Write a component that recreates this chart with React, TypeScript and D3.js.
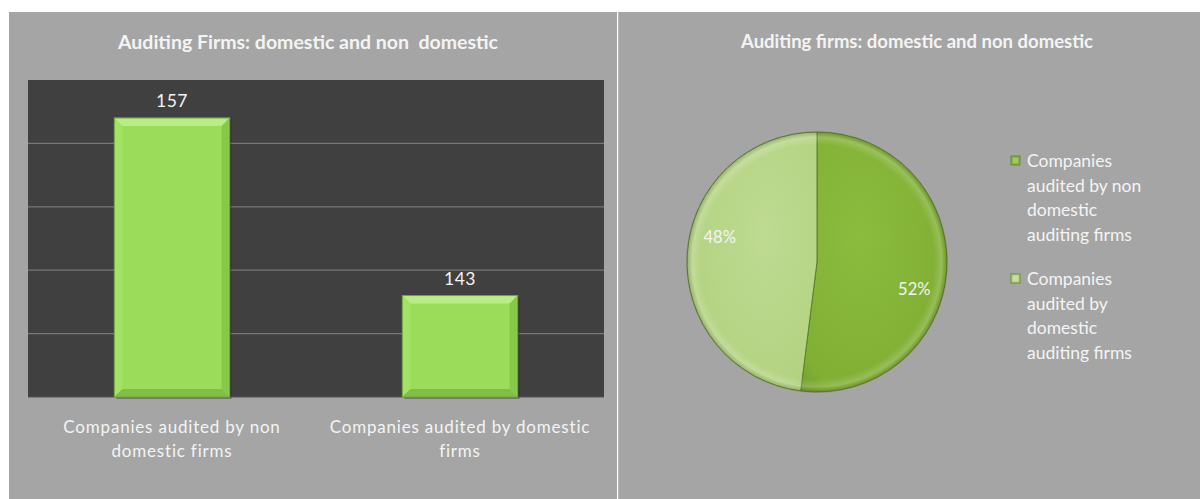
import React from "react";
import * as d3 from "d3";

const barCategories = [
  ["Companies audited by non", "domestic firms"],
  ["Companies audited by domestic", "firms"],
];
const barValues = [157, 143];
const yDomain = [135, 160];
const gridTicks = [140, 145, 150, 155];

const pieLabels = [
  ["Companies", "audited by non", "domestic", "auditing firms"],
  ["Companies", "audited by", "domestic", "auditing firms"],
];
const pieValues = [52, 48];
const pieColors = ["#86b53a", "#b5d584"];

const FONT = "Lato, 'Open Sans', sans-serif";

export default function App() {
  const W = 1200, H = 499;
  const plot = { x0: 28, x1: 604, y0: 80, y1: 397 };
  const x = d3.scaleBand<number>().domain([0, 1]).range([plot.x0, plot.x1]).paddingInner(0.6).paddingOuter(0.3);
  const y = d3.scaleLinear().domain(yDomain).range([plot.y1, plot.y0]);

  const cx = 817, cy = 262, r = 130;
  const pie = d3.pie<number>().sort(null).value((d) => d);
  const arcs = pie(pieValues);
  const arc = d3.arc<d3.PieArcDatum<number>>().innerRadius(0).outerRadius(r);
  const labelArc = d3.arc<d3.PieArcDatum<number>>().innerRadius(r * 0.75).outerRadius(r * 0.75);

  const bev = 8;

  return (
    <div style={{ position: "absolute", left: 0, top: 0 }}>
      <svg width={W} height={H} style={{ display: "block", background: "#fff" }}>
        <defs>
          <radialGradient id="pg0" cx="40%" cy="40%" r="75%">
            <stop offset="0%" stopColor="#8cbc3e" />
            <stop offset="80%" stopColor="#80af34" />
            <stop offset="100%" stopColor="#6c9629" />
          </radialGradient>
          <radialGradient id="pg1" cx="60%" cy="40%" r="75%">
            <stop offset="0%" stopColor="#bedb92" />
            <stop offset="80%" stopColor="#b3d381" />
            <stop offset="100%" stopColor="#9fc46a" />
          </radialGradient>
          <radialGradient id="rim" cx="50%" cy="50%" r="50%">
            <stop offset="90%" stopColor="#ffffff" stopOpacity="0" />
            <stop offset="96%" stopColor="#ffffff" stopOpacity="0.18" />
            <stop offset="100%" stopColor="#000000" stopOpacity="0.15" />
          </radialGradient>
        </defs>
        <rect x={9} y={12} width={608} height={H - 12} fill="#a5a5a5" />
        <rect x={618} y={12} width={W - 618} height={H - 12} fill="#a5a5a5" />
        <line x1={618.5} y1={12} x2={618.5} y2={H} stroke="#b8b8b8" />

        <text x={308} y={49} textAnchor="middle" fill="#f4f4f4" fontFamily={FONT} fontWeight="bold" fontSize={19.5} style={{ whiteSpace: "pre" }}>
          {"Auditing Firms: domestic and non  domestic"}
        </text>

        <rect x={plot.x0} y={plot.y0} width={plot.x1 - plot.x0} height={plot.y1 - plot.y0} fill="#404040" />
        {gridTicks.map((t) => (
          <line key={t} x1={plot.x0} x2={plot.x1} y1={y(t)} y2={y(t)} stroke="#777" strokeWidth={1.2} />
        ))}
        <line x1={plot.x0} x2={plot.x1} y1={plot.y1} y2={plot.y1} stroke="#555" strokeWidth={1} />

        {barValues.map((v, i) => {
          const bx = x(i)!, bw = x.bandwidth(), by = y(v), bh = plot.y1 - y(v);
          return (
            <g key={i}>
              <rect x={bx + 2} y={by + 2} width={bw} height={bh} fill="#222" opacity={0.35} />
              <rect x={bx} y={by} width={bw} height={bh} fill="#9bdd5a" stroke="#6ea63a" strokeWidth={1} />
              <polygon points={`${bx},${by} ${bx + bw},${by} ${bx + bw - bev},${by + bev} ${bx + bev},${by + bev}`} fill="#b9ee86" />
              <polygon points={`${bx},${by} ${bx + bev},${by + bev} ${bx + bev},${by + bh - bev} ${bx},${by + bh}`} fill="#a3e265" />
              <polygon points={`${bx + bw},${by} ${bx + bw - bev},${by + bev} ${bx + bw - bev},${by + bh - bev} ${bx + bw},${by + bh}`} fill="#86c84a" />
              <polygon points={`${bx},${by + bh} ${bx + bev},${by + bh - bev} ${bx + bw - bev},${by + bh - bev} ${bx + bw},${by + bh}`} fill="#7fbf44" />
              <rect x={bx} y={by} width={bw} height={bh} fill="none" stroke="#6ea63a" strokeWidth={1} />
              <text x={bx + bw / 2} y={by - 11} textAnchor="middle" fill="#f4f4f4" fontFamily={FONT} fontSize={17.5} letterSpacing={0.5}>
                {v}
              </text>
              {barCategories[i].map((ln, k) => (
                <text key={k} x={bx + bw / 2} y={433 + k * 24} textAnchor="middle" fill="#f4f4f4" fontFamily={FONT} fontSize={17} letterSpacing={0.8}>
                  {ln}
                </text>
              ))}
            </g>
          );
        })}

        <text x={917} y={48} textAnchor="middle" fill="#f4f4f4" fontFamily={FONT} fontWeight="bold" fontSize={18.5}>
          Auditing firms: domestic and non domestic
        </text>

        <g transform={`translate(${cx},${cy})`}>
          <circle r={r + 1} fill="#000" opacity={0.08} />
          {arcs.map((a, i) => (
            <path key={i} d={arc(a)!} fill={`url(#pg${i})`} stroke="#5d7f2a" strokeWidth={1} />
          ))}
          <circle r={r} fill="url(#rim)" />
          {arcs.map((a, i) => {
            const [lx, ly] = labelArc.centroid(a);
            return (
              <text key={i} x={lx} y={ly} dy={i === 0 ? 27 : -13} textAnchor="middle" fill="#f4f4f4" fontFamily={FONT} fontSize={16.5}>
                {`${pieValues[i]}%`}
              </text>
            );
          })}
        </g>

        {pieLabels.map((lines, i) => {
          const ly = 161 + i * 118;
          return (
            <g key={i}>
              <rect x={1011} y={ly - 5} width={9} height={9} fill={pieColors[i]} stroke="#5d7f2a" strokeWidth={0.8} />
              <rect x={1013} y={ly - 3} width={5} height={5} fill="#fff" opacity={0.25} />
              {lines.map((t, k) => (
                <text key={k} x={1027} y={ly + 6 + k * 24.5} fill="#f4f4f4" fontFamily={FONT} fontSize={17.5}>
                  {t}
                </text>
              ))}
            </g>
          );
        })}
      </svg>
    </div>
  );
}
